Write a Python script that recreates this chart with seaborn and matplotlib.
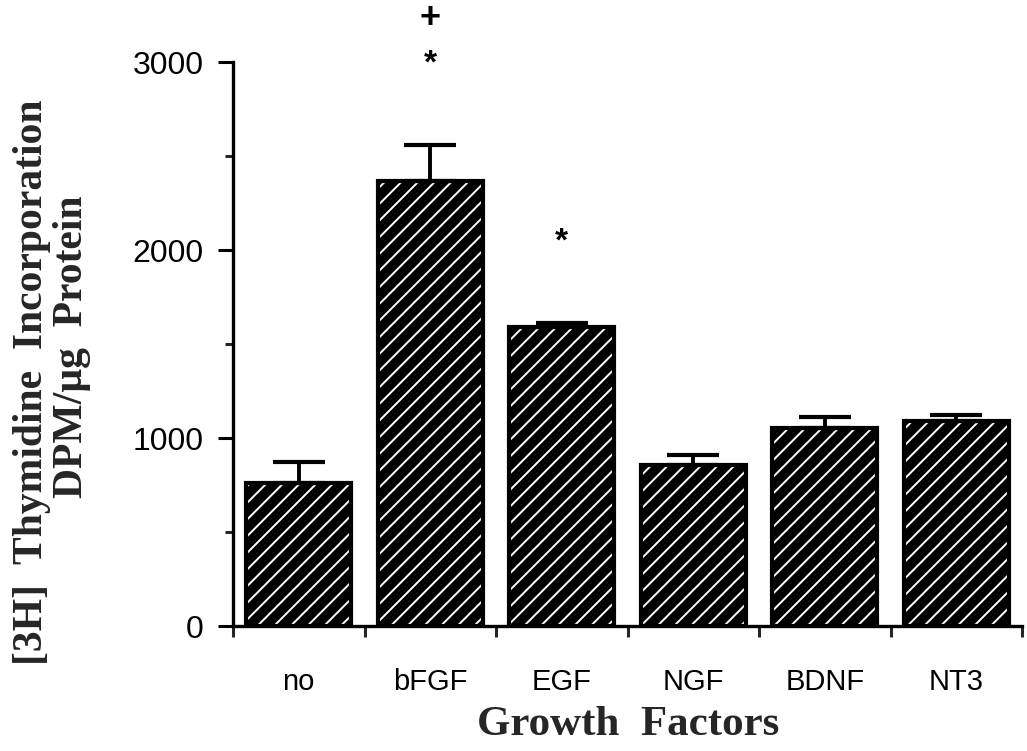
import numpy as np
import pandas as pd
import matplotlib
matplotlib.use('Agg')
import matplotlib.pyplot as plt
import seaborn as sns
from matplotlib.patches import Rectangle
from matplotlib.ticker import MultipleLocator, FixedLocator

# 데이터 ==========================================
factors = ['no', 'bFGF', 'EGF', 'NGF', 'BDNF', 'NT3']
dpm_mean = [760, 2365, 1590, 855, 1055, 1090]
dpm_sem = [110, 195, 20, 55, 55, 30]

# 유의성 표시 (막대 index, 높이, 기호)
marks_idx = [1, 1, 2]
marks_y = [2990, 3230, 2040]
marks_txt = ['*', '+', '*']

df = pd.DataFrame({'factor': factors, 'dpm': dpm_mean})

sns.set_style('white')
plt.rcParams['font.family'] = ['Liberation Sans', 'DejaVu Sans']
plt.rcParams['hatch.linewidth'] = 1.4

fig = plt.figure(figsize=(10.27, 7.51), dpi=100)
ax = fig.add_axes([233 / 1027, 1 - 626 / 751, (1022 - 233) / 1027, (626 - 62) / 751])

# 검은 막대 + 흰 빗금
sns.barplot(data=df, x='factor', y='dpm', color='black', saturation=1,
            edgecolor='white', linewidth=0, hatch='//', width=0.8,
            errorbar=None, ax=ax)

# 막대 테두리
for p in list(ax.patches):
    ax.add_patch(Rectangle(p.get_xy(), p.get_width(), p.get_height(),
                           fill=False, edgecolor='black', linewidth=3.0, zorder=3))

# 위쪽 오차막대만
ax.errorbar(np.arange(len(factors)), dpm_mean,
            yerr=[np.zeros(len(factors)), dpm_sem],
            fmt='none', ecolor='black', elinewidth=2.8, capsize=19,
            capthick=3.0, zorder=1)

for i, y, t in zip(marks_idx, marks_y, marks_txt):
    ax.text(i, y, t, ha='center', va='center', fontsize=26 if t == '+' else 24,
            fontweight='bold', color='black', clip_on=False)

ax.set_xlim(-0.5, 5.5)
ax.set_ylim(0, 3000)
sns.despine(ax=ax)
ax.spines['left'].set_linewidth(2.4)
ax.spines['bottom'].set_linewidth(2.4)
ax.spines['left'].set_color('black')
ax.spines['bottom'].set_color('black')

ax.yaxis.set_major_locator(MultipleLocator(1000))
ax.yaxis.set_minor_locator(MultipleLocator(500))
ax.xaxis.set_minor_locator(FixedLocator(np.arange(-0.5, 6, 1)))

ax.tick_params(axis='y', which='major', direction='out', length=11, width=2.2,
               labelsize=23, pad=10, left=True, colors='black')
ax.tick_params(axis='y', which='minor', direction='out', length=6, width=2.2, left=True)
ax.tick_params(axis='x', which='major', length=0, labelsize=21, pad=30, colors='black')
ax.tick_params(axis='x', which='minor', direction='out', length=8, width=2.2, bottom=True)

ax.set_xlabel('')
ax.set_ylabel('')

serif = ['Liberation Serif', 'DejaVu Serif']
fig.text(0.612, 0.034, 'Growth  Factors', ha='center', va='center',
         fontsize=31, fontweight='bold', family=serif)
fig.text(32 / 1027, 1 - 382 / 751, '[3H]  Thymidine  Incorporation', rotation=90,
         ha='center', va='center', fontsize=30, fontweight='bold', family=serif)
fig.text(72 / 1027, 1 - 347 / 751, 'DPM/μg  Protein', rotation=90,
         ha='center', va='center', fontsize=30, fontweight='bold', family=serif)

fig.savefig('out.png', dpi=100)
